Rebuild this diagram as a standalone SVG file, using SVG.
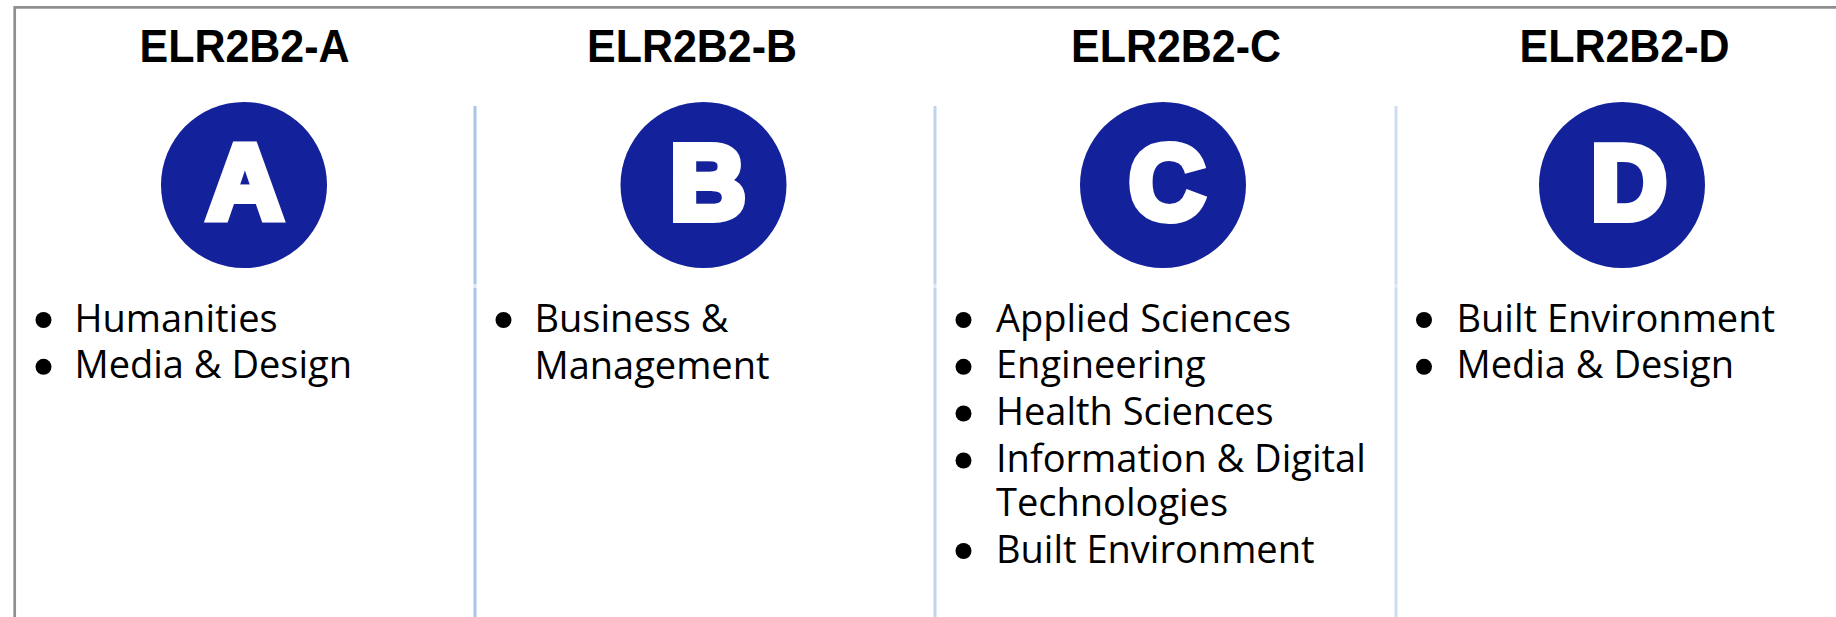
<svg xmlns="http://www.w3.org/2000/svg" width="1836" height="617" viewBox="0 0 1836 617">
<style>
.title{font-family:"Liberation Sans",Arial,sans-serif;font-weight:bold;font-size:46px;fill:#000;text-anchor:middle}
.badge{fill:#13219B}
.letter{font-family:"Liberation Sans",Arial,sans-serif;font-weight:bold;font-size:105px;fill:#fff;stroke:#fff;stroke-width:8;stroke-linejoin:miter;text-anchor:middle}
.item{font-family:"Open Sans","Noto Sans",sans-serif;font-size:38px;fill:#000}
.bullet{fill:#000}
.sep{stroke:#A9C5EA;stroke-width:3}
.sepgap{stroke:#DCE7F5;stroke-width:3}
.frame{stroke:#8F8F8F;stroke-width:2.7;fill:none}
</style>
<rect x="0" y="0" width="1836" height="617" fill="#fff"/>
<g id="frame">
<line class="frame" x1="14.7" y1="7.3" x2="1836" y2="7.3"/>
<line class="frame" x1="14.7" y1="6" x2="14.7" y2="617"/>
</g>
<g id="connectors">
<line class="sep" x1="475" y1="106" x2="475" y2="284.5"/>
<line class="sepgap" x1="475" y1="284.5" x2="475" y2="288"/>
<line class="sep" x1="475" y1="288" x2="475" y2="617"/>
<line class="sep" x1="935" y1="106" x2="935" y2="284.5" style="stroke:#C0D4EE"/>
<line class="sepgap" x1="935" y1="284.5" x2="935" y2="288"/>
<line class="sep" x1="935" y1="288" x2="935" y2="617" style="stroke:#C0D4EE"/>
<line class="sep" x1="1396" y1="106" x2="1396" y2="284.5" style="stroke:#CCDCF1"/>
<line class="sepgap" x1="1396" y1="284.5" x2="1396" y2="288"/>
<line class="sep" x1="1396" y1="288" x2="1396" y2="617" style="stroke:#CCDCF1"/>
</g>
<g id="node-a">
<text class="title" x="244.5" y="62" textLength="210" lengthAdjust="spacingAndGlyphs">ELR2B2-A</text>
<circle class="badge" cx="244" cy="185" r="83"/>
<text class="letter" x="245" y="219">A</text>
<circle class="bullet" cx="43.5" cy="320" r="8"/>
<text class="item" x="74.5" y="331.7">Humanities</text>
<circle class="bullet" cx="43.5" cy="366.8" r="8"/>
<text class="item" x="74.5" y="378.3">Media &amp; Design</text>
</g>
<g id="node-b">
<text class="title" x="692" y="62" textLength="210" lengthAdjust="spacingAndGlyphs">ELR2B2-B</text>
<circle class="badge" cx="703.5" cy="185" r="83"/>
<text class="letter" x="708" y="219">B</text>
<circle class="bullet" cx="503.5" cy="320" r="8"/>
<text class="item" x="534.5" y="331.7">Business &amp;</text>
<text class="item" x="534.5" y="378.6">Management</text>
</g>
<g id="node-c">
<text class="title" x="1176" y="62" textLength="210" lengthAdjust="spacingAndGlyphs">ELR2B2-C</text>
<circle class="badge" cx="1163" cy="185" r="83"/>
<text class="letter" x="1167" y="219">C</text>
<circle class="bullet" cx="963.5" cy="320" r="8"/>
<text class="item" x="996" y="331.7">Applied Sciences</text>
<circle class="bullet" cx="963.5" cy="366.8" r="8"/>
<text class="item" x="996" y="378.3">Engineering</text>
<circle class="bullet" cx="963.5" cy="413.5" r="8"/>
<text class="item" x="996" y="425">Health Sciences</text>
<circle class="bullet" cx="963.5" cy="460.5" r="8"/>
<text class="item" x="996" y="472">Information &amp; Digital</text>
<text class="item" x="996" y="515.7">Technologies</text>
<circle class="bullet" cx="963.5" cy="551" r="8"/>
<text class="item" x="996" y="562.5">Built Environment</text>
</g>
<g id="node-d">
<text class="title" x="1624.5" y="62" textLength="210" lengthAdjust="spacingAndGlyphs">ELR2B2-D</text>
<circle class="badge" cx="1622" cy="185" r="83"/>
<text class="letter" x="1629" y="219">D</text>
<circle class="bullet" cx="1424" cy="320" r="8"/>
<text class="item" x="1456.5" y="331.7">Built Environment</text>
<circle class="bullet" cx="1424" cy="366.8" r="8"/>
<text class="item" x="1456.5" y="378.3">Media &amp; Design</text>
</g>
</svg>
